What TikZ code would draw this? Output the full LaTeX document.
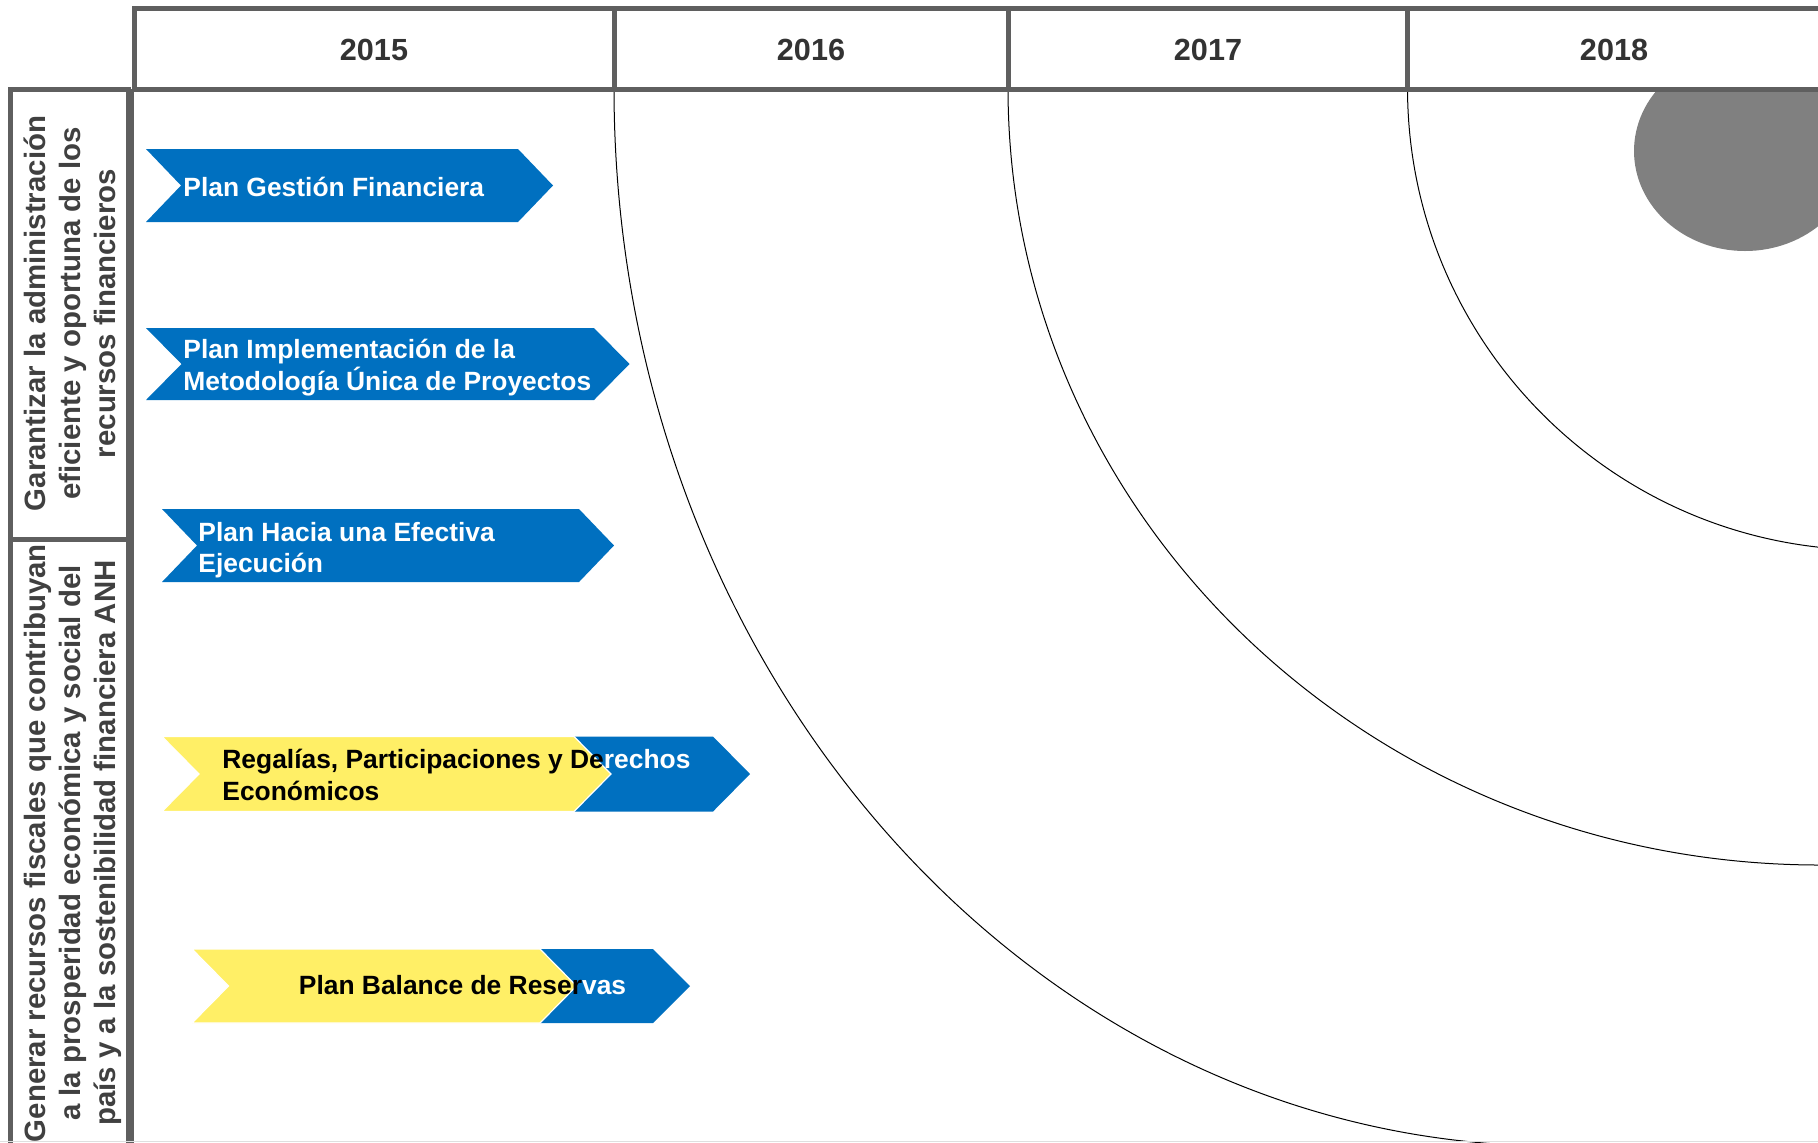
\documentclass[tikz,border=0pt]{standalone}
\usepackage{fontspec}
\setmainfont{Liberation Sans}
\definecolor{anhblue}{HTML}{0070C0}
\definecolor{anhyellow}{HTML}{FFEF66}
\definecolor{linegray}{HTML}{5F5F5F}
\definecolor{yeargray}{HTML}{333333}
\definecolor{sidegray}{HTML}{404040}
\definecolor{blobgray}{HTML}{808080}
\newcommand{\mychev}[6]{%
  \path[#6] (#1,#2) -- (#3,#2) -- ({#3+#5},{(#2+#4)/2}) -- (#3,#4) -- (#1,#4) -- ({#1+#5},{(#2+#4)/2}) -- cycle;}
\begin{document}
\begin{tikzpicture}[x=0.5pt,y=-0.5pt,
  gridline/.style={draw=linegray, line width=2.5pt},
  arcline/.style={draw=black, line width=0.5pt},
  chevtext/.style={anchor=base west, inner sep=0pt, text=white,
    font=\fontsize{13.2}{16}\selectfont\bfseries},
  yeartext/.style={inner sep=0pt, text=yeargray,
    font=\fontsize{15.3}{18}\selectfont\bfseries},
  sidetext/.style={rotate=90, anchor=base, inner sep=0pt, text=sidegray,
    font=\fontsize{14.7}{18}\selectfont\bfseries}]
\clip (0,0) rectangle (1818,1142);
\fill[white] (0,0) rectangle (1818,1142);
% quarter arcs
\draw[arcline] (614,88) arc[start angle=180, end angle=90, x radius=941, y radius=1058];
\draw[arcline] (1008,88) arc[start angle=180, end angle=90, x radius=812, y radius=777];
\draw[arcline] (1407.5,88) arc[start angle=180, end angle=90, x radius=462.5, y radius=462];
% gray blob
\fill[blobgray] (1745,151) ellipse[x radius=111, y radius=100];
% header
\draw[gridline, fill=white] (134.5,8.5) rectangle (1840,89);
\draw[gridline] (614,8.5) -- (614,89);
\draw[gridline] (1008,8.5) -- (1008,89);
\draw[gridline] (1407.5,8.5) -- (1407.5,89);
\node[yeartext] (y15) at (374,50) {2015};
\node[yeartext] (y16) at (811,50) {2016};
\node[yeartext] (y17) at (1208,50) {2017};
\node[yeartext] (y18) at (1614,50) {2018};
% side column
\draw[gridline, fill=white] (10,89) rectangle (128.5,539);
\draw[gridline, fill=white] (10,539) rectangle (128.5,1150);
\draw[gridline] (131.5,89) -- (131.5,1150);
\draw[gray!25, line width=0.6pt] (0,1141.5) -- (1818,1141.5);
\node[sidetext] (s1a) at (45,313.5) {Garantizar la administración};
\node[sidetext] (s1b) at (80,313.5) {eficiente y oportuna de los};
\node[sidetext] (s1c) at (115,313.5) {recursos financieros};
\node[sidetext] (s2a) at (45,843) {Generar recursos fiscales que contribuyan};
\node[sidetext] (s2b) at (80,843) {a la prosperidad económica y social del};
\node[sidetext] (s2c) at (115,843) {país y a la sostenibilidad financiera ANH};
% chevrons
\mychev{146}{149}{518}{222}{35}{fill=anhblue}
\mychev{146}{328}{594}{400}{35.5}{fill=anhblue}
\mychev{162}{509}{579}{582}{35}{fill=anhblue}
\mychev{574}{736.5}{713}{811.5}{37}{fill=anhblue}
\mychev{162}{736.5}{574}{811.5}{37}{fill=anhyellow, draw=white, line width=0.6pt}
\mychev{540}{949}{653}{1023}{37}{fill=anhblue}
\mychev{192}{949}{540}{1023}{36.5}{fill=anhyellow, draw=white, line width=0.6pt}
% chevron texts
\node[chevtext] (t1) at (183,196) {Plan Gestión Financiera};
\node[chevtext] (t2a) at (183,358) {Plan Implementación de la};
\node[chevtext] (t2b) at (183,390) {Metodología Única de Proyectos};
\node[chevtext] (t3a) at (198,541) {Plan Hacia una Efectiva};
\node[chevtext] (t3b) at (198,572.5) {Ejecución};
\node[chevtext, text=black] (t4a) at (222,768) {Regalías, Participaciones y De\textcolor{white}{rechos}};
\node[chevtext, text=black] (t4b) at (222,800) {Económicos};
\node[chevtext, text=black] (t5) at (298.5,994) {Plan Balance de Reser\textcolor{white}{vas}};
\end{tikzpicture}
\end{document}
